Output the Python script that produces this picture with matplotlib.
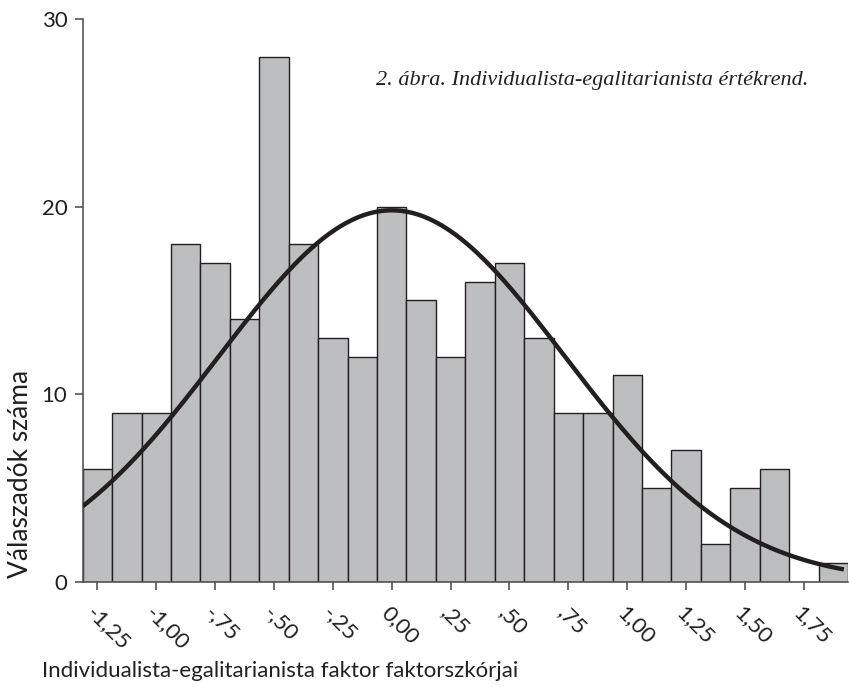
import numpy as np
import matplotlib.pyplot as plt

# Data: histogram counts, bins centred on multiples of 0.125
bin_width = 0.125
first_center = -1.25
counts = [6, 9, 9, 18, 17, 14, 28, 18, 13, 12, 20, 15, 12,
          16, 17, 13, 9, 9, 11, 5, 7, 2, 5, 6, 0, 1]

# Normal curve fitted to the data
n_total = sum(counts)
fit_mean = 0.0
fit_sd = 0.735

tick_values = [-1.25, -1.00, -0.75, -0.50, -0.25, 0.00, 0.25, 0.50, 0.75, 1.00, 1.25, 1.50, 1.75]
tick_labels = ['-1,25', '-1,00', '-,75', '-,50', '-,25', '0,00', ',25', ',50', ',75',
               '1,00', '1,25', '1,50', '1,75']
y_ticks = [0, 10, 20, 30]

centers = first_center + bin_width * np.arange(len(counts))
x_min = centers[0] - bin_width / 2
x_max = centers[-1] + bin_width / 2

plt.rcParams['font.family'] = ['Lato', 'DejaVu Sans']

fig = plt.figure(figsize=(8.49, 6.87), dpi=100)
ax = fig.add_axes([0.0974, 0.1533, 0.9014, 0.8186])

ax.bar(centers, counts, width=bin_width, color='#bcbec0', edgecolor='#231f20',
       linewidth=1.0, zorder=2)

xs = np.linspace(x_min, 1.92, 400)
ys = n_total * bin_width / (fit_sd * np.sqrt(2 * np.pi)) * np.exp(-(xs - fit_mean) ** 2 / (2 * fit_sd ** 2))
ax.plot(xs, ys, color='#231f20', linewidth=3.2, zorder=3, solid_capstyle='butt')

ax.set_xlim(x_min, x_max)
ax.set_ylim(0, 30)

for side in ['top', 'right']:
    ax.spines[side].set_visible(False)
ax.spines['left'].set_color('#555555')
ax.spines['bottom'].set_color('#555555')
ax.spines['left'].set_linewidth(1.2)
ax.spines['bottom'].set_linewidth(1.2)

ax.set_yticks(y_ticks)
ax.set_yticklabels([str(v) for v in y_ticks], fontsize=16, color='#231f20')
ax.set_xticks(tick_values)
ax.set_xticklabels(tick_labels, rotation=-45, ha='left', va='top',
                   rotation_mode='anchor', fontsize=16, color='#231f20')
ax.tick_params(axis='both', length=6, width=1.2, color='#555555')
ax.tick_params(axis='x', pad=9)
ax.tick_params(axis='y', pad=5)

ax.set_xlabel('Individualista-egalitarianista faktor faktorszkórjai', fontsize=16,
              color='#231f20')
ax.xaxis.set_label_coords(0.258, -0.141)
ax.set_ylabel('Válaszadók száma', fontsize=19, color='#231f20')
ax.yaxis.set_label_coords(-0.065, 0.191)

ax.text(0.948, 0.892, '2. ábra. Individualista-egalitarianista értékrend.',
        transform=ax.transAxes, ha='right', va='center', fontsize=16,
        family='Liberation Serif', style='italic', color='#231f20')

plt.savefig('out.png', dpi=100)
